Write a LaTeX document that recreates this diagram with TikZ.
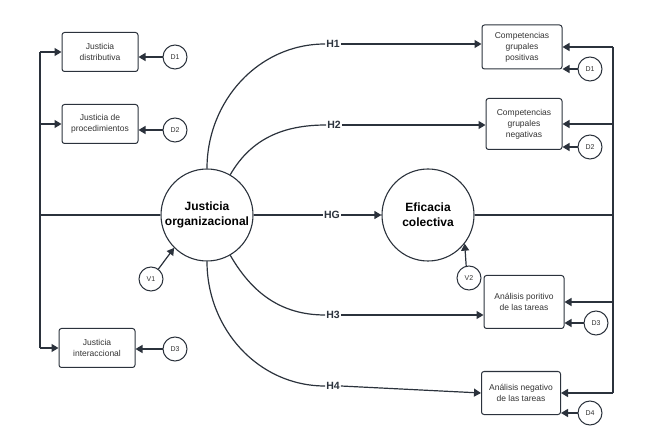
\documentclass[tikz,border=0pt]{standalone}
\usepackage{fontspec}
\setmainfont{Liberation Sans}
\usetikzlibrary{arrows.meta}
\definecolor{ln}{HTML}{2B323C}
\definecolor{tx}{HTML}{333333}
\tikzset{
  box/.style={draw=ln, line width=1pt, rounded corners=2.5pt, align=center, font=\fontsize{8.5}{11}\selectfont, text=tx, inner sep=1pt},
  big/.style={draw=ln, line width=1.1pt, circle, minimum size=92pt, align=center, font=\fontsize{12}{15}\selectfont\bfseries, inner sep=0pt},
  small/.style={draw=ln, line width=1pt, circle, minimum size=24pt, font=\fontsize{7}{8}\selectfont, text=tx, inner sep=0pt},
  conn/.style={draw=ln, line width=1.2pt},
  arr/.style={conn, -{Triangle[width=8pt,length=7pt]}},
  hlab/.style={font=\fontsize{10.5}{12}\selectfont\bfseries, text=ln, inner sep=1pt}
}
\begin{document}
\begin{tikzpicture}[x=1pt,y=-1pt]
\useasboundingbox (0,0) rectangle (653,443);
% central circles
\node[big] (jo) at (207,215) {Justicia\\organizacional};
\node[big] (ec) at (428,215) {Eficacia\\colectiva};
% left boxes
\node[box, minimum width=76pt, minimum height=39pt] (jd) at (100,52) {Justicia\\distributiva};
\node[box, minimum width=76pt, minimum height=39pt] (jp) at (100,124) {Justicia de\\procedimientos};
\node[box, minimum width=76pt, minimum height=39pt] (ji) at (97,348) {Justicia\\interaccional};
\node[small] (ld1) at (175,57) {D1};
\node[small] (ld2) at (175,130) {D2};
\node[small] (ld3) at (175,349) {D3};
\node[small] (v1) at (151,279) {V1};
\node[small] (v2) at (469,278) {V2};
% right boxes
\node[box, minimum width=80pt, minimum height=44pt] (cp) at (522,47) {Competencias\\grupales\\positivas};
\node[box, minimum width=76pt, minimum height=51pt] (cn) at (524,124) {Competencias\\grupales\\negativas};
\node[box, minimum width=80pt, minimum height=53pt] (ap) at (524,302) {Análisis poritivo\\de las tareas};
\node[box, minimum width=79pt, minimum height=43pt] (an) at (521,393) {Análisis negativo\\de las tareas};
\node[small] (rd1) at (590,69) {D1};
\node[small] (rd2) at (590,147) {D2};
\node[small] (rd3) at (596,323) {D3};
\node[small] (rd4) at (590,413) {D4};
% H labels
\node[hlab] (h1) at (333,44) {H1};
\node[hlab] (h2) at (334,125) {H2};
\node[hlab] (hg) at (332,215) {HG};
\node[hlab] (h3) at (333,315) {H3};
\node[hlab] (h4) at (333,386) {H4};
% left bus
\coordinate (lt) at (40,52);
\coordinate (lm) at (40,124);
\coordinate (lb) at (40,348);
\coordinate (lc) at (40,215);
\draw[conn] (lt) -- (lb);
\draw[conn] (jo.west) -- (lc);
\draw[arr] (lt) -- (jd.west);
\draw[arr] (lm) -- (jp.west);
\draw[arr] (lb) -- (ji.west);
\draw[arr] (ld1) -- (ld1 -| jd.east);
\draw[arr] (ld2) -- (ld2 -| jp.east);
\draw[arr] (ld3) -- (ld3 -| ji.east);
\draw[arr] (v1) -- (jo.225);
\draw[arr] (v2.103) -- (ec.-38);
% right bus
\coordinate (rt) at (613,47);
\coordinate (r2) at (613,124);
\coordinate (r3) at (613,302);
\coordinate (rb) at (613,393);
\coordinate (rc) at (613,215);
\draw[conn] (rt) -- (rb);
\draw[conn] (ec.east) -- (rc);
\draw[arr] (rt) -- (cp.east);
\draw[arr] (r2) -- (cn.east);
\draw[arr] (r3) -- (ap.east);
\draw[arr] (rb) -- (an.east);
\draw[arr] (rd1) -- (rd1 -| cp.east);
\draw[arr] (rd2) -- (rd2 -| cn.east);
\draw[arr] (rd3) -- (rd3 -| ap.east);
\draw[arr] (rd4) -- (rd4 -| an.east);
% hypotheses
\draw[conn] (jo.north) to[out=90,in=180] (h1.west);
\draw[arr] (h1.east) -- (h1.east -| cp.west);
\draw[conn] (jo.60) to[out=60,in=180] (h2.west);
\draw[arr] (h2.east) -- (h2.east -| cn.west);
\draw[conn] (jo.east) -- (hg.west);
\draw[arr] (hg.east) -- (ec.west);
\draw[conn] (jo.-60) to[out=-60,in=180] (h3.west);
\draw[arr] (h3.east) -- (h3.east -| ap.west);
\draw[conn] (jo.south) to[out=-90,in=180] (h4.west);
\draw[arr] (h4.east) -- (an.west);
\end{tikzpicture}
\end{document}
